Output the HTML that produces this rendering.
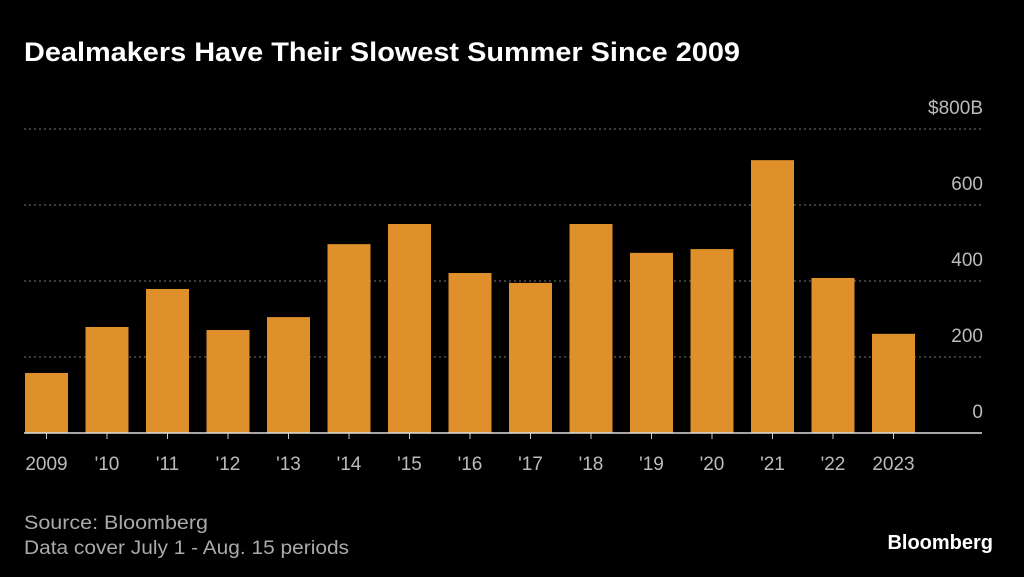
<!DOCTYPE html>
<html><head><meta charset="utf-8"><style>
html,body{margin:0;padding:0;background:#000;width:1024px;height:577px;overflow:hidden;font-family:"Liberation Sans",sans-serif;}
</style></head><body>
<svg width="1024" height="577" viewBox="0 0 1024 577">
<rect width="1024" height="577" fill="#000"/>
<text x="24" y="61" fill="#fff" font-size="27" font-weight="bold" textLength="716" lengthAdjust="spacingAndGlyphs">Dealmakers Have Their Slowest Summer Since 2009</text>
<g id="grid"></g>
<g id="bars"></g>
<g id="xlabels"></g>
<text x="24" y="529" fill="#aaa" font-size="19" textLength="184" lengthAdjust="spacingAndGlyphs">Source: Bloomberg</text>
<text x="24" y="554" fill="#aaa" font-size="19" textLength="325" lengthAdjust="spacingAndGlyphs">Data cover July 1 - Aug. 15 periods</text>
<text x="993" y="549" fill="#fff" font-size="20" font-weight="bold" text-anchor="end">Bloomberg</text>
</svg>
<script>
const categories=["2009","'10","'11","'12","'13","'14","'15","'16","'17","'18","'19","'20","'21","'22","2023"];
const values=[158,279,379,271,305,497,550,421,395,550,474,484,718,408,261];
const yTicks=[0,200,400,600,800];
const yTickLabels=["0","200","400","600","$800B"];
const NS="http://www.w3.org/2000/svg";
const y0=433,yTop=129,yMax=800;
const y=v=>y0-(v/yMax)*(y0-yTop);
const x=i=>25+i*60.5;
const bw=43;
const grid=document.getElementById('grid'),bars=document.getElementById('bars'),xl=document.getElementById('xlabels');
function mk(t,a,p){const e=document.createElementNS(NS,t);for(const k in a)e.setAttribute(k,a[k]);p.appendChild(e);return e;}
yTicks.forEach((t,i)=>{
 if(t>0){const l=mk('line',{x1:24,x2:982,y1:y(t),y2:y(t),stroke:'#777','stroke-dasharray':'2,3','stroke-width':1},grid);
 
 }
 const tx=mk('text',{x:983,y:y(t)-15,fill:'#bbb','font-size':19,'text-anchor':'end'},grid);
 tx.textContent=yTickLabels[i];
 
 
});
values.forEach((v,i)=>{
 const r=mk('rect',{x:x(i),y:y(v),width:bw,height:y0-y(v),fill:'#e0902a'},bars);
 
 
 const tk=mk('line',{x1:x(i)+bw/2,x2:x(i)+bw/2,y1:y0,y2:y0+6,stroke:'#ccc'},xl);
 
 
 const t=mk('text',{x:x(i)+bw/2,y:470,fill:'#bbb','font-size':19,'text-anchor':'middle'},xl);
 t.textContent=categories[i];
 
 
});
const base=mk('line',{x1:24,x2:982,y1:y0,y2:y0,stroke:'#ddd','stroke-width':1.5},xl);


</script>
</body></html>
